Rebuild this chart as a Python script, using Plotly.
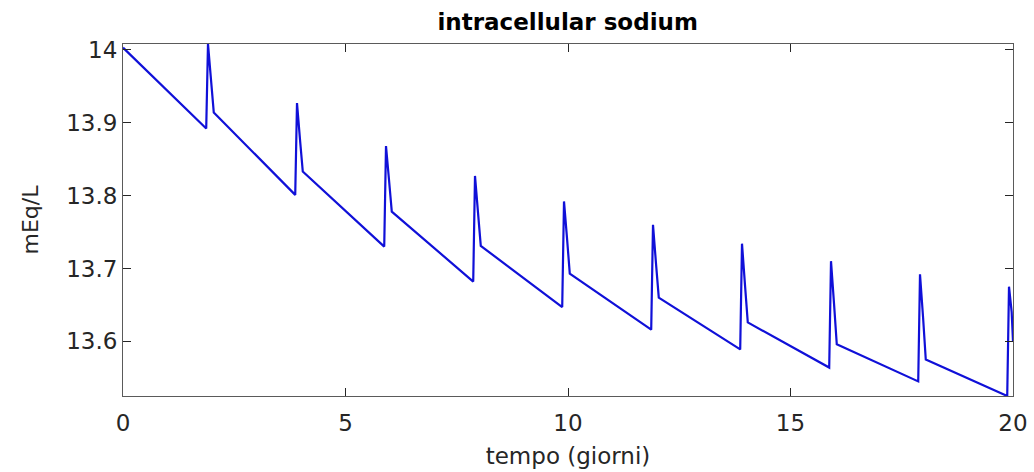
import plotly.graph_objects as go

# time (days) and intracellular sodium (mEq/L)
t_days = [0.0,
          1.87, 1.91, 1.98, 2.04,
          3.87, 3.91, 3.98, 4.04,
          5.87, 5.91, 5.98, 6.04,
          7.87, 7.91, 7.98, 8.04,
          9.87, 9.91, 9.98, 10.04,
          11.87, 11.91, 11.98, 12.04,
          13.87, 13.91, 13.98, 14.04,
          15.87, 15.91, 15.98, 16.04,
          17.87, 17.91, 17.98, 18.04,
          19.87, 19.91, 19.97, 20.0]
sodium = [14.003,
          13.892, 14.008, 13.955, 13.914,
          13.801, 13.927, 13.875, 13.833,
          13.730, 13.868, 13.820, 13.778,
          13.682, 13.827, 13.775, 13.731,
          13.647, 13.792, 13.740, 13.693,
          13.616, 13.760, 13.705, 13.660,
          13.589, 13.734, 13.675, 13.626,
          13.564, 13.710, 13.650, 13.596,
          13.545, 13.692, 13.632, 13.575,
          13.525, 13.675, 13.640, 13.600]

x_ticks = [0, 5, 10, 15, 20]
y_ticks = [13.6, 13.7, 13.8, 13.9, 14.0]
y_tick_labels = ["13.6", "13.7", "13.8", "13.9", "14"]

FONT = "DejaVu Sans, Liberation Sans, Arial"

fig = go.Figure()
fig.add_trace(go.Scatter(x=t_days, y=sodium, mode="lines",
                         line=dict(color="#1010d8", width=2.2),
                         showlegend=False, hoverinfo="skip"))

axis_common = dict(showgrid=False, zeroline=False, showline=True, mirror="ticks",
                   linecolor="#5a5a5a", linewidth=1, ticks="inside", ticklen=8,
                   tickcolor="#262626", tickwidth=1, automargin=False,
                   tickfont=dict(family=FONT, size=23, color="#262626"))

fig.update_layout(
    width=1034, height=472,
    margin=dict(l=123, r=21, t=44, b=76, autoexpand=False),
    paper_bgcolor="white", plot_bgcolor="white",
    title=dict(text="<b>intracellular sodium</b>", x=0.549, xanchor="center",
               y=1 - 22 / 472, yanchor="middle",
               font=dict(family=FONT, size=23, color="#000000")),
    xaxis=dict(range=[0, 20], tickvals=x_ticks, ticktext=[str(v) for v in x_ticks],
               ticklabelstandoff=6,
               title=dict(text="tempo (giorni)", standoff=13,
                          font=dict(family=FONT, size=23, color="#262626")),
               **axis_common),
    yaxis=dict(range=[13.525, 14.008], tickvals=y_ticks, ticktext=y_tick_labels,
               title=dict(text="mEq/L", standoff=21,
                          font=dict(family=FONT, size=22, color="#262626")),
               **axis_common),
)

fig.write_html("out.html")
